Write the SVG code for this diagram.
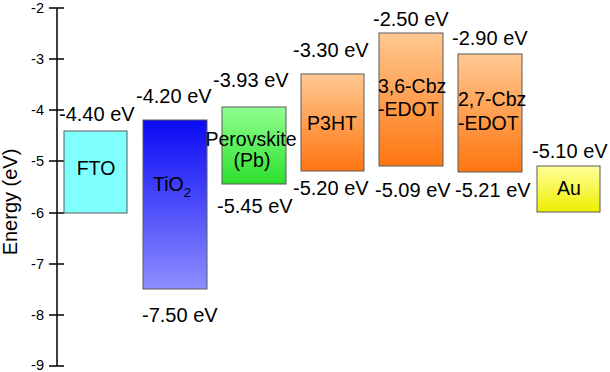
<svg xmlns="http://www.w3.org/2000/svg" width="610" height="372" viewBox="0 0 610 372">
<defs>
<linearGradient id="gTi" x1="0" y1="0" x2="0" y2="1"><stop offset="0" stop-color="#0A0AF5"/><stop offset="1" stop-color="#8E8EFF"/></linearGradient>
<linearGradient id="gPe" x1="0" y1="0" x2="0" y2="1"><stop offset="0" stop-color="#90FF90"/><stop offset="1" stop-color="#2EE02E"/></linearGradient>
<linearGradient id="gOr" x1="0" y1="0" x2="0" y2="1"><stop offset="0" stop-color="#FFC992"/><stop offset="1" stop-color="#FF7510"/></linearGradient>
<linearGradient id="gAu" x1="0" y1="0" x2="0" y2="1"><stop offset="0" stop-color="#FFFF9A"/><stop offset="1" stop-color="#EEEE00"/></linearGradient>
</defs>
<style>
text{font-family:"Liberation Sans",Arial,sans-serif;fill:#000}
.t{font-size:14.5px;text-anchor:end}
.v{font-size:20px}
.l{font-size:19.5px}
.c{text-anchor:middle}
.box{stroke:#5a5a5a;stroke-width:1}
.ax{stroke:#000;stroke-width:1.5;fill:none}
</style>
<g id="axis">
<line class="ax" x1="57" y1="8" x2="57" y2="366"/>
<path class="ax" d="M49 8H64M49 59H64M49 110H64M49 161H64M49 213H64M49 264H64M49 315H64M49 366H64"/>
<text class="t" x="44" y="13">-2</text>
<text class="t" x="44" y="64">-3</text>
<text class="t" x="44" y="115">-4</text>
<text class="t" x="44" y="166">-5</text>
<text class="t" x="44" y="218">-6</text>
<text class="t" x="44" y="269">-7</text>
<text class="t" x="44" y="320">-8</text>
<text class="t" x="44" y="370">-9</text>
<text class="v c" transform="translate(17,202) rotate(-90)">Energy (eV)</text>
</g>
<g id="FTO">
<rect class="box" x="64" y="131" width="63" height="82" fill="#80FFFF"/>
<text class="l c" x="96" y="175">FTO</text>
<text class="v" x="59" y="121">-4.40 eV</text>
</g>
<g id="TiO2">
<rect class="box" x="143" y="120" width="64" height="169" fill="url(#gTi)"/>
<text class="l" x="153" y="191">TiO<tspan font-size="13" dy="6">2</tspan></text>
<text class="v" x="136" y="103">-4.20 eV</text>
<text class="v" x="142" y="322">-7.50 eV</text>
</g>
<g id="Perovskite">
<rect class="box" x="222" y="107" width="64" height="77" fill="url(#gPe)"/>
<text class="l c" x="251" y="146">Perovskite</text>
<text class="l c" x="252" y="167">(Pb)</text>
<text class="v" x="213" y="87">-3.93 eV</text>
<text class="v" x="217" y="213">-5.45 eV</text>
</g>
<g id="P3HT">
<rect class="box" x="301" y="74" width="63" height="97" fill="url(#gOr)"/>
<text class="l c" x="332" y="130">P3HT</text>
<text class="v" x="293" y="57">-3.30 eV</text>
<text class="v" x="293" y="195">-5.20 eV</text>
</g>
<g id="Cbz36">
<rect class="box" x="379" y="33" width="64" height="133" fill="url(#gOr)"/>
<text class="l" x="378" y="93">3,6-Cbz</text>
<text class="l" x="378" y="116">-EDOT</text>
<text class="v" x="373" y="26">-2.50 eV</text>
<text class="v" x="375" y="197">-5.09 eV</text>
</g>
<g id="Cbz27">
<rect class="box" x="458" y="54" width="64" height="118" fill="url(#gOr)"/>
<text class="l" x="458" y="106">2,7-Cbz</text>
<text class="l" x="458" y="130">-EDOT</text>
<text class="v" x="452" y="45">-2.90 eV</text>
<text class="v" x="455" y="197">-5.21 eV</text>
</g>
<g id="Au">
<rect class="box" x="537" y="166" width="63" height="46" fill="url(#gAu)"/>
<text class="l c" x="569" y="195">Au</text>
<text class="v" x="532" y="158">-5.10 eV</text>
</g>
<g id="connectors"/>
</svg>
